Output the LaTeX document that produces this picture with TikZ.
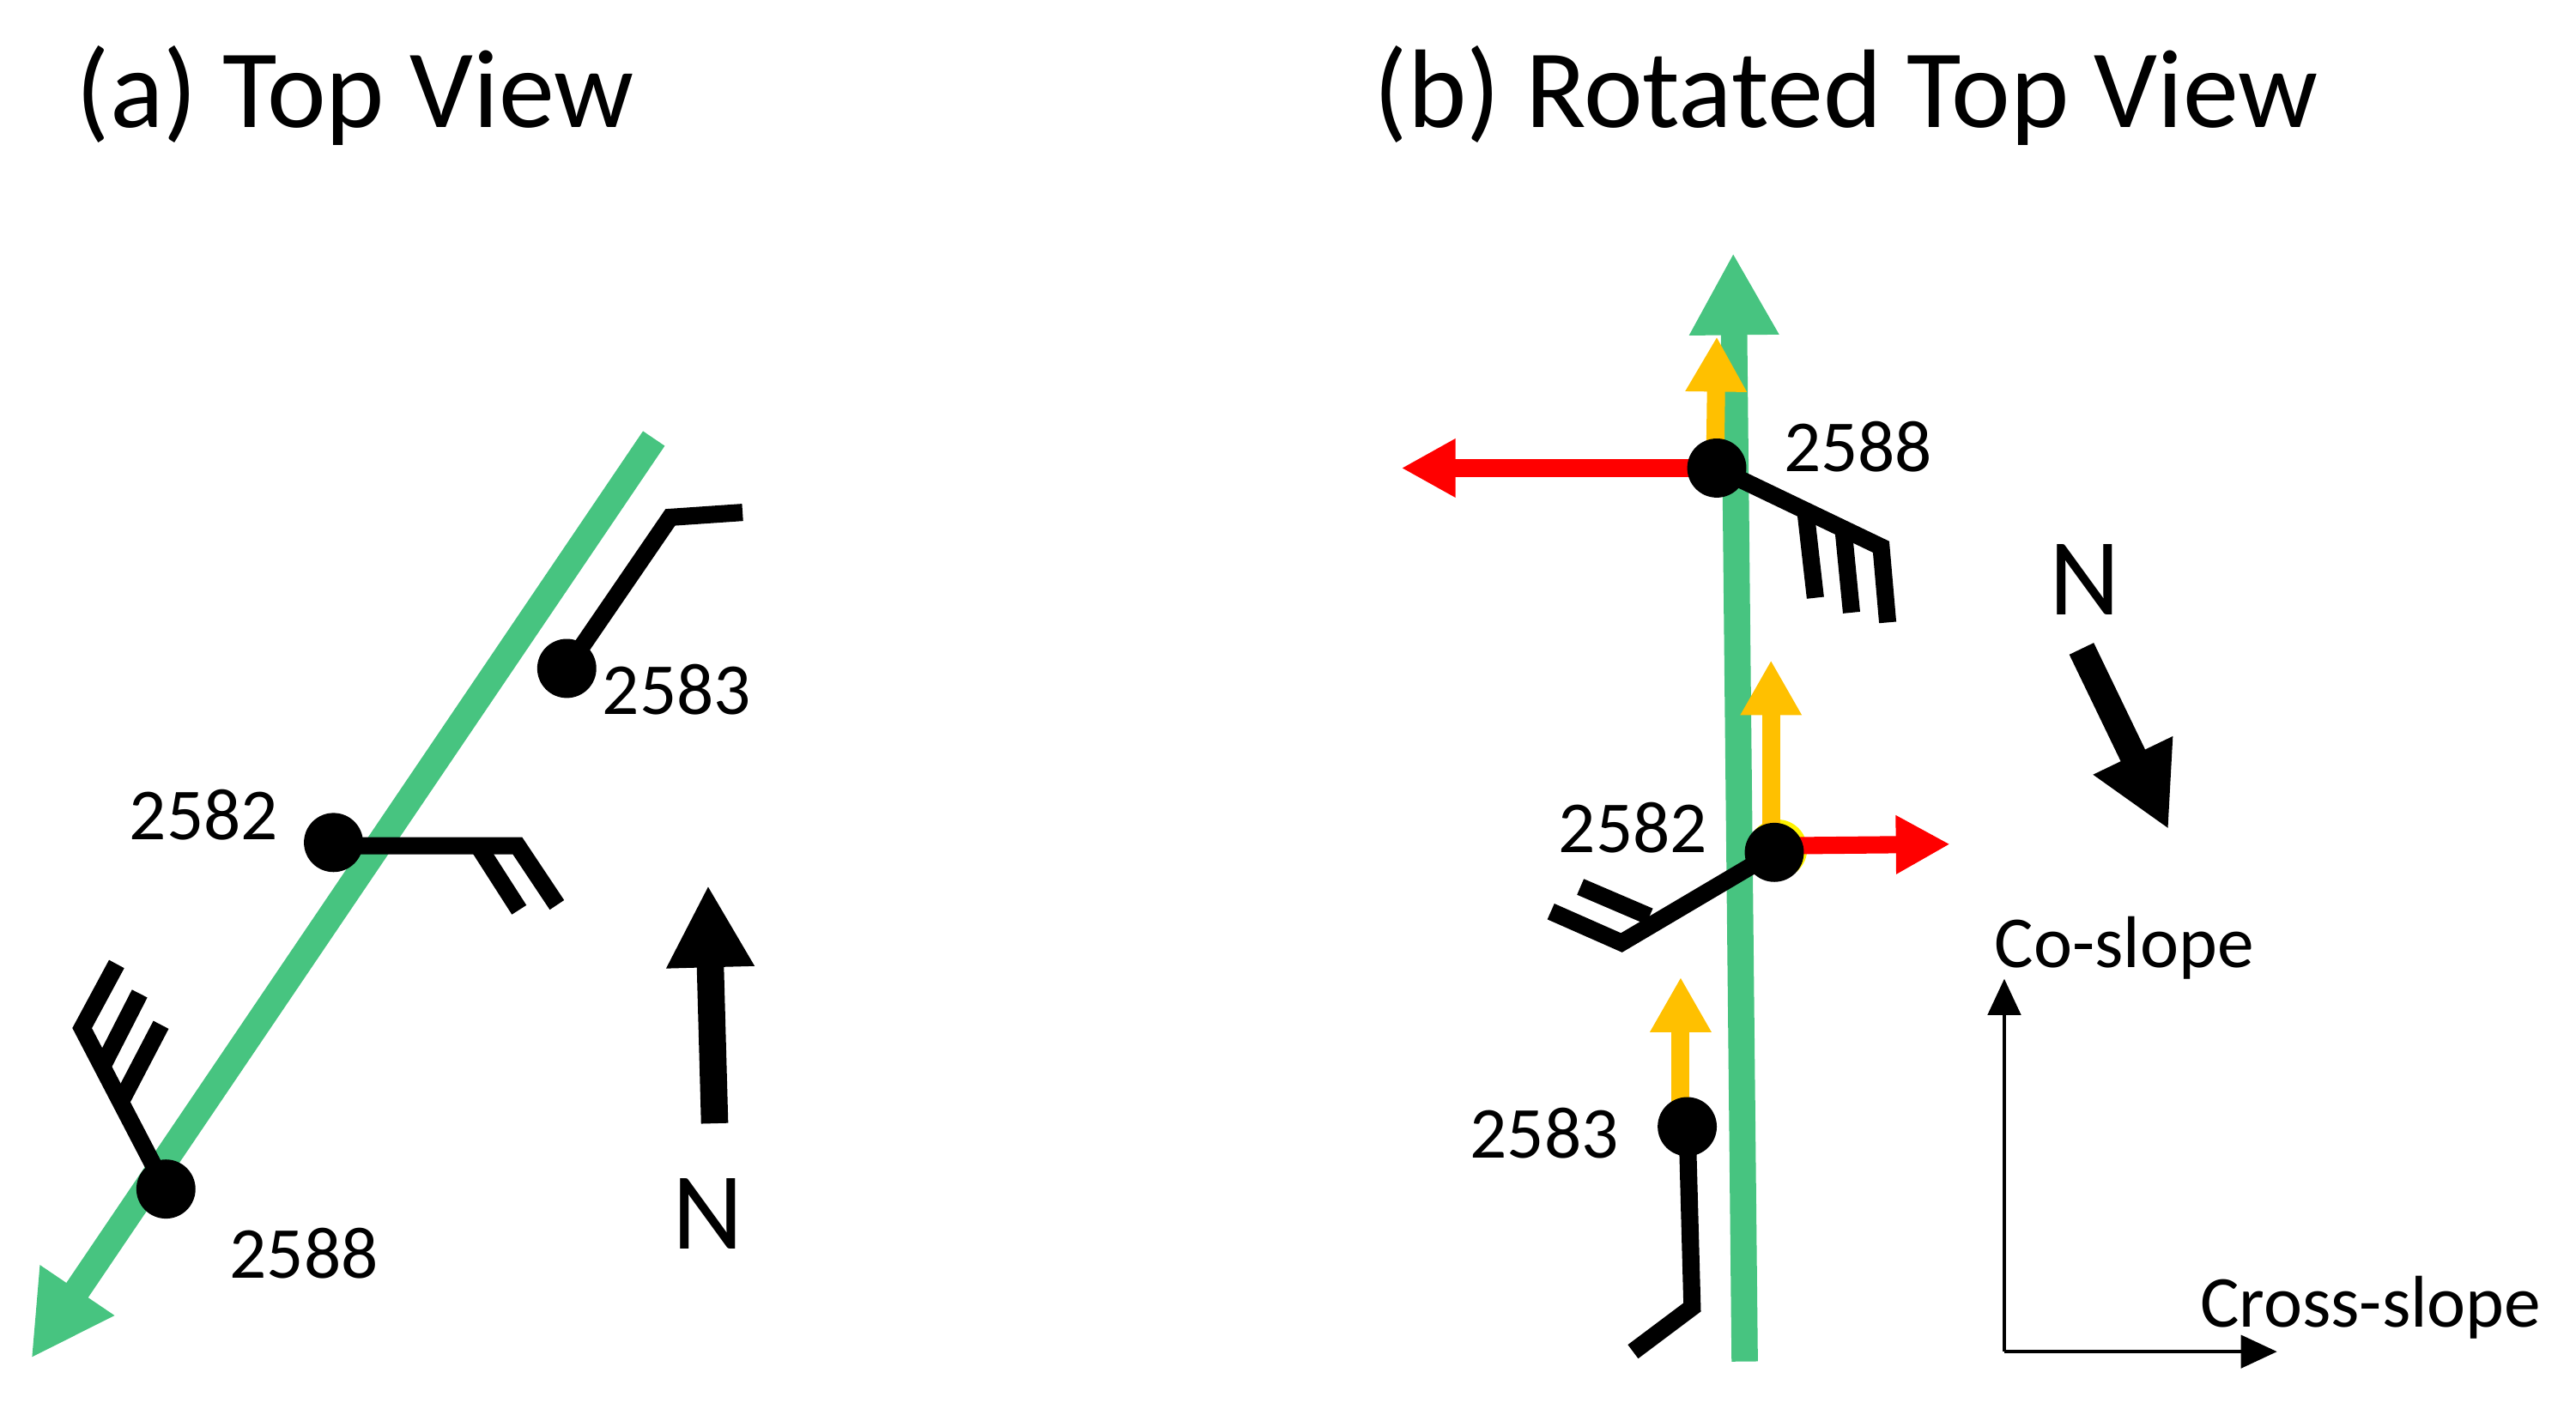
\documentclass[tikz,border=0pt]{standalone}
\usepackage{fontspec}
\setmainfont{Carlito}
\usetikzlibrary{arrows.meta}
\definecolor{gr}{HTML}{47C480}
\definecolor{ora}{HTML}{FFC000}
\pgfdeclarelayer{back}
\pgfsetlayers{back,main}
\tikzset{
 x=0.02cm,y=-0.02cm,
 thinb/.style={line width=0.21cm,black,line cap=butt,line join=miter},
 dot/.style={circle,fill=black,inner sep=0pt,minimum size=0.72cm},
 halo/.style={circle,fill=yellow,inner sep=0pt,minimum size=0.72cm},
 lab/.style={font=\fontsize{25.4}{28}\selectfont,inner sep=0pt},
 nlab/.style={font=\fontsize{38}{42}\selectfont,inner sep=0pt},
 ttl/.style={font=\fontsize{38.7}{42}\selectfont,inner sep=0pt,anchor=west},
 grar/.style={line width=0.32cm,gr,-{Triangle[length=1cm,width=1.02cm]}},
 orar/.style={line width=0.22cm,ora,-{Triangle[length=0.67cm,width=0.7cm]}},
 rdar/.style={line width=0.21cm,red,-{Triangle[length=0.66cm,width=0.67cm]}},
 nar/.style={line width=0.33cm,black,-{Triangle[length=1cm,width=1cm]}},
 axar/.style={line width=0.04cm,black,-{Triangle[length=0.44cm,width=0.4cm]}},
}
\begin{document}
\begin{tikzpicture}
\useasboundingbox (0,0) rectangle (1568,854);
\node[ttl] (ta) at (46,58) {(a) Top View};
\node[ttl] (tb) at (836,58) {(b) Rotated Top View};
% named points
\coordinate (g1) at (398,267); \coordinate (g2) at (19,827);
\coordinate (a83k) at (408,315); \coordinate (a83e) at (452,312);
\coordinate (a82s) at (203,515);
\coordinate (a82m) at (315,515); \coordinate (a82f) at (339,551);
\coordinate (a82k) at (291,515); \coordinate (a82e) at (316,554);
\coordinate (a88k) at (50,626); \coordinate (a88a) at (71,587);
\coordinate (a88m) at (62,650); \coordinate (a88b) at (85,605);
\coordinate (a88n) at (74,670); \coordinate (a88c) at (98,624);
\coordinate (n1) at (435,684); \coordinate (n2) at (431,539);
\coordinate (g3) at (1062,829); \coordinate (g4) at (1055,154);
\coordinate (n3) at (1267,395); \coordinate (n4) at (1320,505);
\coordinate (o) at (1220,823); \coordinate (oy) at (1220,596); \coordinate (ox) at (1386,823);
\coordinate (o88) at (1044,280); \coordinate (o88e) at (1045,205);
\coordinate (o82) at (1078,515); \coordinate (o82e) at (1078,402);
\coordinate (o83) at (1023,680); \coordinate (o83e) at (1023,595);
\coordinate (r88) at (1040,285); \coordinate (r88e) at (853,285);
\coordinate (r82) at (1085,515); \coordinate (r82e) at (1187,514);
\coordinate (b88k) at (1145,333); \coordinate (b88a) at (1149,379);
\coordinate (b88m) at (1122,322); \coordinate (b88b) at (1127,373);
\coordinate (b88n) at (1099,311); \coordinate (b88c) at (1105,364);
\coordinate (b82k) at (987,574); \coordinate (b82a) at (944,555);
\coordinate (b82m) at (1004,558); \coordinate (b82b) at (962,540);
\coordinate (b83k) at (1030,796); \coordinate (b83a) at (994,823);
% stations
\node[dot] (a83) at (345,407) {};
\node[dot] (a82) at (203,513) {};
\node[dot] (a88) at (101,724) {};
\node[dot] (b88) at (1045,285) {};
\node[dot] (b82) at (1080,519) {};
\node[dot] (b83) at (1027,686) {};
\begin{pgfonlayer}{back}
\draw[grar] (g1) -- (g2);
\draw[grar] (g3) -- (g4);
\node[halo] (h82) at (1082,517) {};
\draw[orar] (o88) -- (o88e);
\draw[orar] (o82) -- (o82e);
\draw[orar] (o83) -- (o83e);
\draw[rdar] (r88) -- (r88e);
\draw[rdar] (r82) -- (r82e);
\draw[thinb] (a83.center) -- (a83k) -- (a83e);
\draw[thinb] (a82s) -- (a82m) -- (a82f);
\draw[thinb] (a82k) -- (a82e);
\draw[thinb] (a88.center) -- (a88k) -- (a88a);
\draw[thinb] (a88m) -- (a88b);
\draw[thinb] (a88n) -- (a88c);
\draw[thinb] (b88.center) -- (b88k) -- (b88a);
\draw[thinb] (b88m) -- (b88b);
\draw[thinb] (b88n) -- (b88c);
\draw[thinb] (b82.center) -- (b82k) -- (b82a);
\draw[thinb] (b82m) -- (b82b);
\draw[thinb] (b83.center) -- (b83k) -- (b83a);
\end{pgfonlayer}
\node[lab] (l83) at (412,420) {2583};
\node[lab] (l82) at (124,496) {2582};
\node[lab] (l88) at (185,763) {2588};
\draw[nar] (n1) -- (n2);
\node[nlab] (na) at (431,739) {N};
\node[lab] (bl88) at (1131,272) {2588};
\node[lab] (bl82) at (994,504) {2582};
\node[lab] (bl83) at (940,690) {2583};
\draw[nar] (n3) -- (n4);
\node[nlab] (nb) at (1269,353) {N};
\draw[axar] (o) -- (oy);
\draw[axar] (o) -- (ox);
\node[lab] (cs) at (1293,577) {Co-slope};
\node[lab] (xs) at (1443,796) {Cross-slope};
\end{tikzpicture}
\end{document}
